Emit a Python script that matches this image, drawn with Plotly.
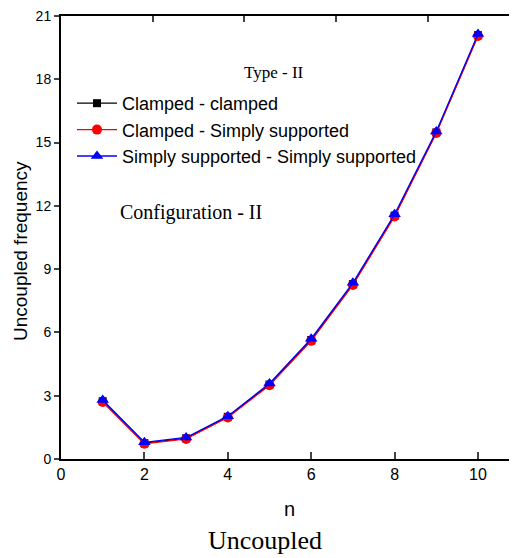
import plotly.graph_objects as go

n_values = [1, 2, 3, 4, 5, 6, 7, 8, 9, 10]
clamped_clamped = [2.74, 0.75, 0.98, 2.00, 3.53, 5.64, 8.29, 11.54, 15.48, 20.09]
clamped_ss = [2.70, 0.72, 0.95, 1.97, 3.50, 5.60, 8.25, 11.50, 15.45, 20.05]
ss_ss = [2.80, 0.79, 1.02, 2.03, 3.58, 5.70, 8.35, 11.60, 15.53, 20.15]
series_names = ["Clamped - clamped", "Clamped - Simply supported",
                "Simply supported - Simply supported"]
y_ticks = [0, 3, 6, 9, 12, 15, 18, 21]
x_ticks = [0, 2, 4, 6, 8, 10]
top_ticks = [2.2, 4.4, 6.6, 8.8]
right_ticks = [4.2, 8.4, 12.6, 16.8]

sans = "Liberation Sans"
serif = "Liberation Serif"

# page body has an 8px margin; plot area on screen spans x 61..517, y 16..459
SX0, SX1, SY0, SY1 = 61, 517, 16, 459


def px(sx):
    return (sx - SX0) / (SX1 - SX0)


def py(sy):
    return (SY1 - sy) / (SY1 - SY0)


fig = go.Figure()
styles = [("black", "square", 8), ("red", "circle", 10), ("blue", "triangle-up", 11)]
for name, ys, (col, sym, sz) in zip(series_names, [clamped_clamped, clamped_ss, ss_ss], styles):
    fig.add_trace(go.Scatter(x=n_values, y=ys, mode="lines+markers", name=name,
                             line=dict(color=col, width=1.3),
                             marker=dict(color=col, symbol=sym, size=sz)))

# invisible trace to activate the secondary (top/right) axes
fig.add_trace(go.Scatter(x=[0], y=[0], xaxis="x2", yaxis="y2", mode="markers",
                         marker=dict(opacity=0), showlegend=False, hoverinfo="skip"))

xr = [0, (SX1 - SX0) / 41.7]
yr = [0, 21]
fig.update_layout(
    width=509, height=550,
    margin=dict(l=SX0 - 8, r=0, t=SY0 - 8, b=550 - (SY1 - 8)),
    plot_bgcolor="white", paper_bgcolor="white",
    font=dict(family=sans, color="black"),
    xaxis=dict(range=xr, tickvals=x_ticks, ticks="inside", ticklen=7, tickwidth=1.5,
               showline=True, linecolor="black", linewidth=2, showgrid=False,
               zeroline=False, tickfont=dict(size=16, family=sans),
               ticklabeloverflow="allow"),
    yaxis=dict(range=yr, tickvals=y_ticks, ticks="outside", ticklen=5, tickwidth=1.5,
               showline=True, linecolor="black", linewidth=2, showgrid=False,
               zeroline=False, tickfont=dict(size=14, family=sans),
               ticklabeloverflow="allow"),
    xaxis2=dict(range=xr, overlaying="x", side="top", tickvals=top_ticks,
                ticks="inside", ticklen=6, tickwidth=1.5, showticklabels=False,
                showline=True, linecolor="black", linewidth=2, showgrid=False,
                zeroline=False),
    yaxis2=dict(range=yr, overlaying="y", side="right", tickvals=right_ticks,
                ticks="inside", ticklen=5, tickwidth=1.5, showticklabels=False,
                showline=False, showgrid=False, zeroline=False),
    legend=dict(x=px(72), y=py(85), xanchor="left", yanchor="top",
                bgcolor="rgba(0,0,0,0)", font=dict(size=18, family=sans),
                itemwidth=40),
    showlegend=True,
    annotations=[
        dict(text="Type - II", x=px(274), y=py(72), font=dict(size=17, family=serif)),
        dict(text="Configuration - II", x=px(191), y=py(212), font=dict(size=20, family=serif)),
        dict(text="Uncoupled", x=px(265), y=py(540), font=dict(size=26, family=serif)),
        dict(text="n", x=px(289), y=py(509), font=dict(size=20, family=sans)),
        dict(text="Uncoupled frequency", x=px(20), y=py(251), textangle=-90,
             font=dict(size=19, family=sans)),
    ],
)
for a in fig.layout.annotations:
    a.update(xref="paper", yref="paper", showarrow=False,
             xanchor="center", yanchor="middle")

fig.write_html("out.html")
